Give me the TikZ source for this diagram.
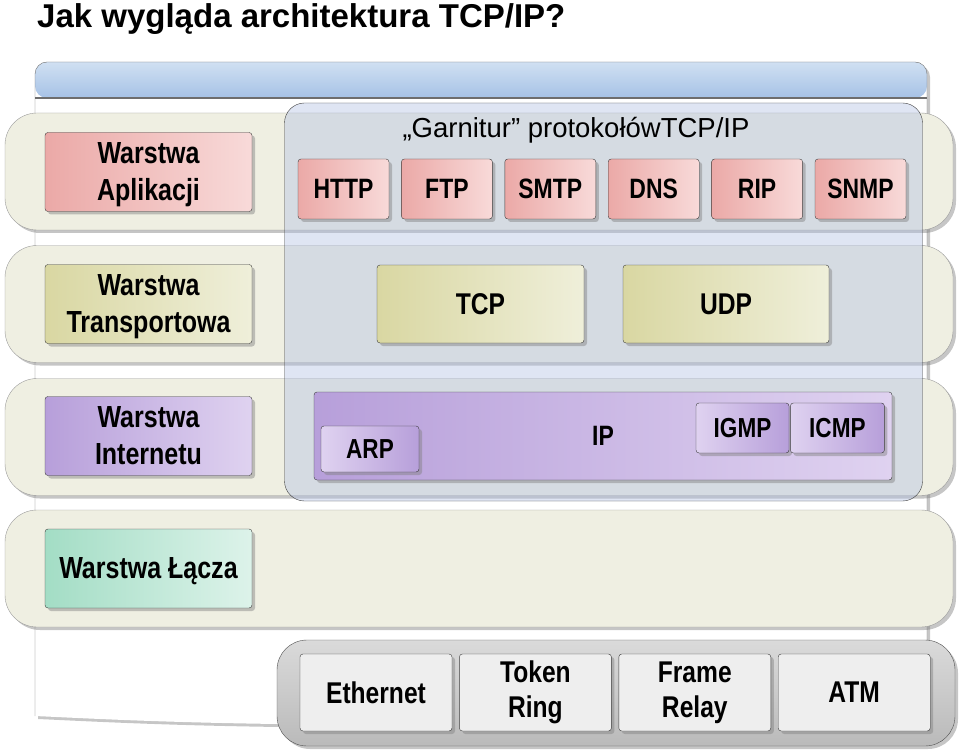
\documentclass[tikz,border=0pt]{standalone}
\usepackage{fontspec}
\setmainfont{Liberation Sans}
\newfontfamily\narrowfont{Liberation Sans}[FakeStretch=0.82]
\usetikzlibrary{positioning,shadows}

\definecolor{bandfill}{HTML}{EFEFE2}
\definecolor{bandline}{HTML}{9A9A9A}
\definecolor{suitefill}{HTML}{B0BFE2}
\definecolor{suiteline}{HTML}{404040}
\definecolor{boxline}{HTML}{3C3C3C}
\definecolor{appdark}{HTML}{EBA9A7}
\definecolor{applight}{HTML}{F8DAD9}
\definecolor{trdark}{HTML}{D9D7A2}
\definecolor{trlight}{HTML}{EFEFDA}
\definecolor{netdark}{HTML}{B79FDA}
\definecolor{netlight}{HTML}{DFD2F0}
\definecolor{linkdark}{HTML}{A3DDC5}
\definecolor{linklight}{HTML}{DDF3EA}
\definecolor{bardark}{HTML}{BABABA}
\definecolor{barlight}{HTML}{DADADA}
\definecolor{hwfill}{HTML}{EEEEEE}
\definecolor{paneltop}{HTML}{D0E0F2}
\definecolor{panelmid}{HTML}{86A9D8}
\definecolor{panelbot}{HTML}{A6C2E6}
\definecolor{panelline}{HTML}{6E6E6E}

\tikzset{
  softshadow/.style={drop shadow={shadow xshift=3pt,shadow yshift=-3pt,fill=black!50,opacity=0.45}},
  band/.style={draw=bandline,fill=bandfill,rounded corners=32pt,minimum width=948pt,minimum height=117pt,softshadow},
  suite/.style={draw=suiteline,fill=suitefill,fill opacity=0.4,rounded corners=20pt,minimum width=638pt,minimum height=398pt},
  box/.style={draw=boxline,rounded corners=3pt,inner sep=0pt,align=center,softshadow,
    font=\narrowfont\bfseries\fontsize{30}{36}\selectfont},
  tint/.style 2 args={left color=#1,right color=#2},
  layer/.style={box,minimum width=207pt,minimum height=79pt,text depth=0pt,
    font=\narrowfont\bfseries\fontsize{30.5}{37}\selectfont},
  proto/.style={box,minimum width=91pt,minimum height=60pt,tint={appdark}{applight},
    font=\narrowfont\bfseries\fontsize{28}{32}\selectfont},
  hw/.style={box,fill=hwfill,minimum width=152pt,minimum height=77pt,drop shadow={opacity=0},
    font=\narrowfont\bfseries\fontsize{30}{35}\selectfont},
  small/.style={box,tint={netlight}{netdark},font=\narrowfont\bfseries\fontsize{27.5}{32}\selectfont}
}

\begin{document}
\begin{tikzpicture}[x=1pt,y=-1pt]
\useasboundingbox (0,0) rectangle (960,751);

% title
\node[anchor=base west,inner sep=0pt,font=\bfseries\fontsize{33}{36}\selectfont] (title) at (37,28) {Jak wygląda architektura TCP/IP?};

% back panel
\fill[white,softshadow,rounded corners=12pt] (35,716) -- (35,62) -- (927,62) -- (927,724) -- (277,724) .. controls (150,722) and (80,718) .. (35,716);
\begin{scope}
  \clip[rounded corners=12pt] (35,98) -- (35,62) -- (927,62) -- (927,98) -- cycle;
  \shade[top color=paneltop,middle color=panelmid,bottom color=panelbot] (35,62) rectangle (927,98);
\end{scope}
\draw[panelline,rounded corners=12pt] (35,716) -- (35,62) -- (927,62) -- (927,724);
\draw[panelline,line width=1.2pt] (35,98) -- (927,98);

% layer bands
\node[band] (bapp)  at (479,171.5) {};
\node[band] (btr)   at (479,304)   {};
\node[band] (bnet)  at (479,437)   {};
\node[band] (blink) at (479,568.5) {};

% protocol suite
\node[suite] (suite) at (603.5,302) {};
\node[anchor=base,inner sep=0pt,font=\fontsize{27.5}{30}\selectfont] (suitetitle) at (576,138) {„Garnitur” protokołówTCP/IP};

% layer names
\node[layer,tint={appdark}{applight}]   (lapp)   at (148.5,172)   {Warstwa\\Aplikacji};
\node[layer,tint={trdark}{trlight}]     (ltr)    at (148.5,304)   {Warstwa\\Transportowa};
\node[layer,tint={netdark}{netlight}]   (lnet)   at (148.5,436)   {Warstwa\\Internetu};
\node[layer,tint={linkdark}{linklight}] (llink)  at (148.5,568.5) {Warstwa Łącza};

% application protocols
\node[proto] (http) at (343.5,189) {HTTP};
\node[proto] (ftp)  [right=12pt of http] {FTP};
\node[proto] (smtp) [right=12pt of ftp]  {SMTP};
\node[proto] (dns)  [right=12pt of smtp] {DNS};
\node[proto] (rip)  [right=12pt of dns]  {RIP};
\node[proto] (snmp) [right=12pt of rip]  {SNMP};

% transport
\node[box,tint={trdark}{trlight},minimum width=207pt,minimum height=78pt] (tcp) at (480.5,304) {TCP};
\node[box,tint={trdark}{trlight},minimum width=206pt,minimum height=78pt] (udp) at (726,304)   {UDP};

% internet
\node[box,tint={netdark}{netlight},minimum width=578pt,minimum height=88pt,
  font=\narrowfont\bfseries\fontsize{28}{32}\selectfont] (ip) at (603,436) {IP};
\node[small,minimum width=98pt,minimum height=46pt] (arp)  at (370,449)   {ARP};
\node[small,minimum width=93pt,minimum height=50pt] (igmp) at (742.5,428) {IGMP};
\node[small,minimum width=94pt,minimum height=50pt] (icmp) [right=1pt of igmp] {ICMP};

% network hardware
\node[draw=boxline!90,top color=barlight,bottom color=bardark,rounded corners=30pt,minimum width=678pt,minimum height=106pt,softshadow] (hwbar) at (616,693) {};
\node[hw] (eth)    at (376,692.5) {Ethernet};
\node[hw] (tring)  [right=7pt of eth]   {Token\\Ring};
\node[hw] (frelay) [right=7pt of tring] {Frame\\Relay};
\node[hw] (atm)    [right=7pt of frelay] {ATM};
\end{tikzpicture}
\end{document}
